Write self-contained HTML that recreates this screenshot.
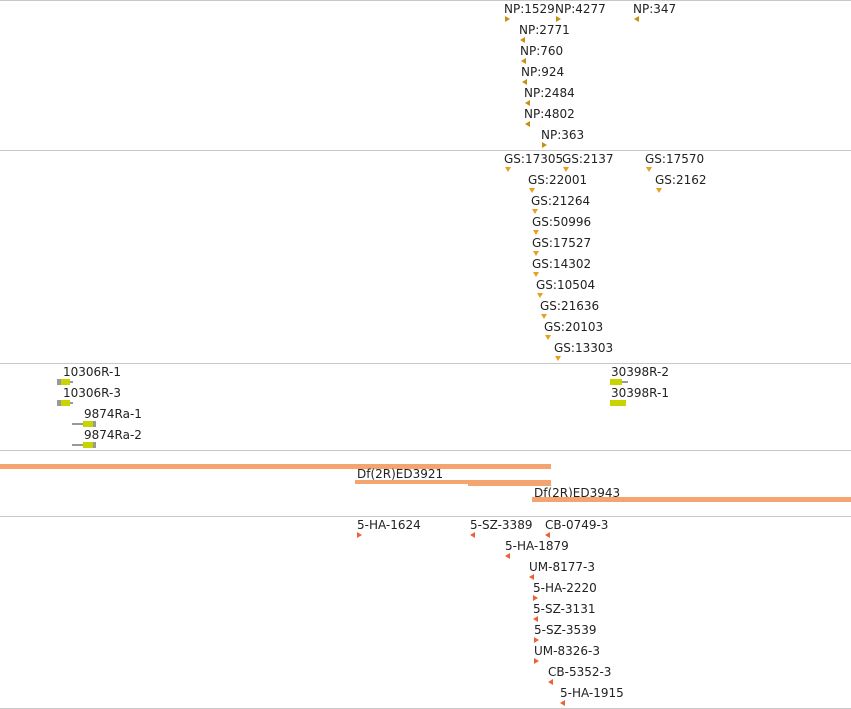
<!DOCTYPE html>
<html><head><meta charset="utf-8">
<style>
body{margin:0;background:#fff;}
#c{position:relative;width:851px;height:709px;overflow:hidden;font-family:"DejaVu Sans","Liberation Sans",sans-serif;font-size:12px;color:#222;}
.t{position:absolute;white-space:nowrap;line-height:13px;}
.hl{position:absolute;left:0;width:851px;height:1px;background:#c8c8c8;}
.b{position:absolute;}
</style></head><body>
<div id="c">
<div class="hl" style="top:0"></div>
<div class="hl" style="top:150px"></div>
<div class="hl" style="top:363px"></div>
<div class="hl" style="top:450px"></div>
<div class="hl" style="top:516px"></div>
<div class="hl" style="top:708px"></div>

<div class="b" style="left:0;top:464px;width:551px;height:5px;background:#f4a46e"></div>
<div class="t" style="left:357px;top:468px">Df(2R)ED3921</div>
<div class="b" style="left:355px;top:480px;width:196px;height:4px;background:#f4a46e"></div>
<div class="b" style="left:468px;top:481px;width:83px;height:5px;background:#f4a46e"></div>
<div class="t" style="left:534px;top:487px">Df(2R)ED3943</div>
<div class="b" style="left:532px;top:497px;width:319px;height:5px;background:#f4a46e"></div>

<div class="t" style="left:63px;top:366px">10306R-1</div>
<div class="b" style="left:57px;top:379px;width:4px;height:6px;background:#999"></div>
<div class="b" style="left:61px;top:379px;width:9px;height:6px;background:#c8d400"></div>
<div class="b" style="left:70px;top:381px;width:3px;height:2px;background:#999"></div>
<div class="t" style="left:63px;top:387px">10306R-3</div>
<div class="b" style="left:57px;top:400px;width:4px;height:6px;background:#999"></div>
<div class="b" style="left:61px;top:400px;width:9px;height:6px;background:#c8d400"></div>
<div class="b" style="left:70px;top:402px;width:3px;height:2px;background:#999"></div>
<div class="t" style="left:84px;top:408px">9874Ra-1</div>
<div class="b" style="left:72px;top:423px;width:11px;height:2px;background:#999"></div>
<div class="b" style="left:83px;top:421px;width:10px;height:6px;background:#c8d400"></div>
<div class="b" style="left:93px;top:421px;width:3px;height:6px;background:#999"></div>
<div class="t" style="left:84px;top:429px">9874Ra-2</div>
<div class="b" style="left:72px;top:444px;width:11px;height:2px;background:#999"></div>
<div class="b" style="left:83px;top:442px;width:10px;height:6px;background:#c8d400"></div>
<div class="b" style="left:93px;top:442px;width:3px;height:6px;background:#999"></div>
<div class="t" style="left:611px;top:366px">30398R-2</div>
<div class="b" style="left:610px;top:379px;width:12px;height:6px;background:#c8d400"></div>
<div class="b" style="left:622px;top:381px;width:6px;height:2px;background:#999"></div>
<div class="t" style="left:611px;top:387px">30398R-1</div>
<div class="b" style="left:610px;top:400px;width:16px;height:6px;background:#c8d400"></div>
</div>
<script>
const npLabels=["NP:1529","NP:4277","NP:347","NP:2771","NP:760","NP:924","NP:2484","NP:4802","NP:363"];
const npPos=[505,556,634,520,521,522,525,525,542];
const npRow=[0,0,0,1,2,3,4,5,6];
const npDir=["r","r","l","l","l","l","l","l","r"];
const gsLabels=["GS:17305","GS:2137","GS:17570","GS:2162","GS:22001","GS:21264","GS:50996","GS:17527","GS:14302","GS:10504","GS:21636","GS:20103","GS:13303"];
const gsPos=[505,563,646,656,529,532,533,533,533,537,541,545,555];
const gsRow=[0,0,0,1,1,2,3,4,5,6,7,8,9];
const ifLabels=["5-HA-1624","5-SZ-3389","CB-0749-3","5-HA-1879","UM-8177-3","5-HA-2220","5-SZ-3131","5-SZ-3539","UM-8326-3","CB-5352-3","5-HA-1915"];
const ifPos=[357,470,545,505,529,533,533,534,534,548,560];
const ifRow=[0,0,0,1,2,3,4,5,6,7,8];
const ifDir=["r","l","l","l","l","r","l","r","r","l","l"];
const c=document.getElementById('c');
function tri(x,y,dir,col){
  const d=document.createElement('div');
  
  
  d.style.position='absolute';d.style.width='0';d.style.height='0';
  d.style.left=x+'px';d.style.top=y+'px';
  if(dir==='r'){d.style.borderTop='3px solid transparent';d.style.borderBottom='3px solid transparent';d.style.borderLeft='5px solid '+col;}
  else if(dir==='l'){d.style.borderTop='3px solid transparent';d.style.borderBottom='3px solid transparent';d.style.borderRight='5px solid '+col;}
  else{d.style.borderLeft='3px solid transparent';d.style.borderRight='3px solid transparent';d.style.borderTop='5px solid '+col;}
  c.appendChild(d);
}
function lab(x,y,s){
  const d=document.createElement('div');
  d.className='t';
  
  
  d.style.left=x+'px';d.style.top=y+'px';d.textContent=s;c.appendChild(d);
}
npLabels.forEach((s,i)=>{const y=3+21*npRow[i];lab(npPos[i]-1,y,s);tri(npPos[i],y+13,npDir[i],'#c89010');});
gsLabels.forEach((s,i)=>{const y=153+21*gsRow[i];lab(gsPos[i]-1,y,s);tri(gsPos[i],y+14,'d','#e8a020');});
ifLabels.forEach((s,i)=>{const y=519+21*ifRow[i];lab(ifPos[i],y,s);tri(ifPos[i],y+13,ifDir[i],'#f06038');});
</script>
</body></html>
